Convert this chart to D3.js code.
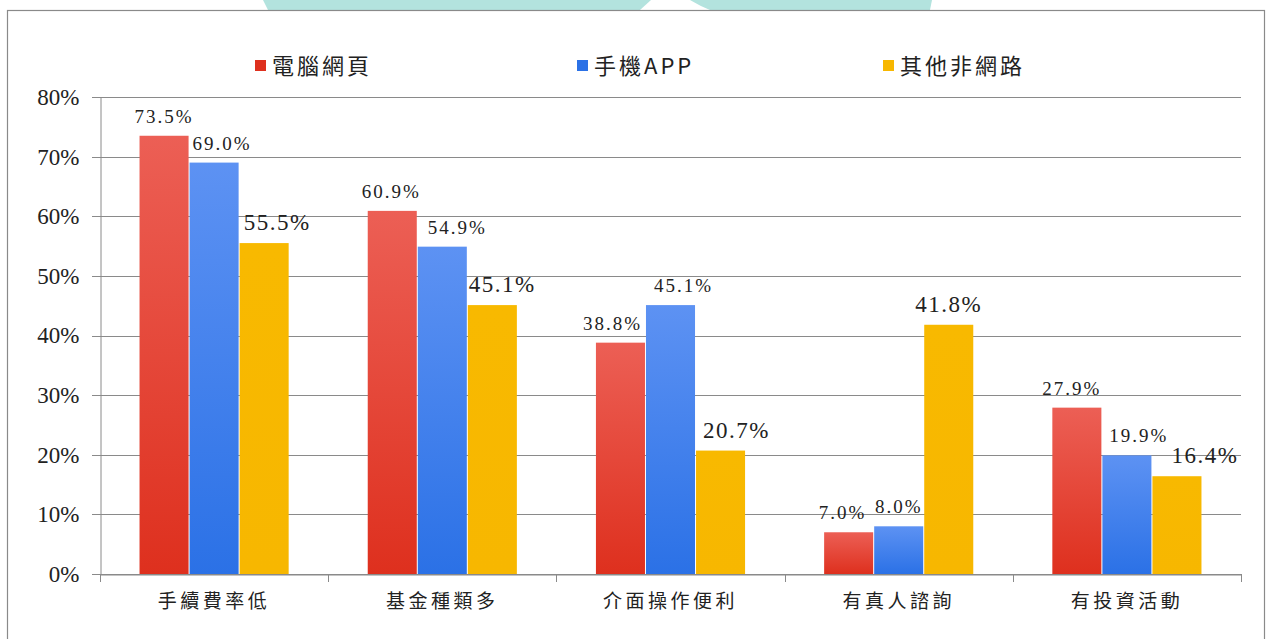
<!DOCTYPE html>
<html><head><meta charset="utf-8">
<script src="https://cdn.jsdelivr.net/npm/d3@7"></script>
<style>
html,body{margin:0;padding:0;background:#fff;}
svg{display:block;}
text{font-family:"Liberation Serif","Noto Sans CJK TC",serif;fill:#222;}
</style></head>
<body>
<svg id="chart" width="1271" height="639"></svg>
<script>
const categories = ["手續費率低","基金種類多","介面操作便利","有真人諮詢","有投資活動"];
const seriesNames = ["電腦網頁","手機APP","其他非網路"];
const webValues = [73.5, 60.9, 38.8, 7.0, 27.9];
const appValues = [69.0, 54.9, 45.1, 8.0, 19.9];
const otherValues = [55.5, 45.1, 20.7, 41.8, 16.4];
const yTicks = [0,10,20,30,40,50,60,70,80];

const seriesValues = [webValues, appValues, otherValues];
// styling / layout (not data)
const colorsTop = ["#ec5f55","#5d92f3","#f8b900"];
const colorsBot = ["#de301e","#2b71e6","#f7b700"];
const labelSize = [19,19,23];
const labelNudge = [[0,-1,-8,-6,-5],[8,15,13,0,12],[13,10,16,0,28]];

const svg = d3.select("#chart");
const defs = svg.append("defs");
seriesNames.forEach((s,i)=>{
  const g = defs.append("linearGradient").attr("id","grad"+i)
    .attr("x1",0).attr("y1",0).attr("x2",0).attr("y2",1);
  g.append("stop").attr("offset","0%").attr("stop-color",colorsTop[i]);
  g.append("stop").attr("offset","100%").attr("stop-color",colorsBot[i]);
});

// watermark at top
svg.append("path")
  .attr("d","M263,0 L651,0 L640,10 L268,10 Z")
  .attr("fill","#b3e3de");
svg.append("path")
  .attr("d","M690,0 L932,0 L930,10 L710,10 Q700,6 690,0 Z")
  .attr("fill","#b3e3de");

// frame
svg.append("rect").attr("x",7.5).attr("y",10.5).attr("width",1257).attr("height",640)
  .attr("fill","none").attr("stroke","#8a8a8a").attr("stroke-width",1.2);

const pLeft = 100, pRight = 1241, pTop = 97, pBottom = 574;
const y = d3.scaleLinear().domain([0,80]).range([pBottom, pTop]);
const x0 = d3.scaleBand().domain(categories).range([pLeft, pRight]).padding(0);
const x1 = d3.scaleBand().domain(seriesNames).range([0, x0.bandwidth()]).paddingInner(0).paddingOuter(0.78);

// gridlines
svg.append("g").selectAll("line").data(yTicks).join("line")
  .attr("x1", pLeft-8).attr("x2", pRight)
  .attr("y1", d=>Math.round(y(d))+0.5).attr("y2", d=>Math.round(y(d))+0.5)
  .attr("stroke","#8a8a8a").attr("stroke-width",1);

// y axis
const yAxis = d3.axisLeft(y).tickValues(yTicks).tickFormat(d=>d+"%").tickSize(0).tickPadding(21);
const gy = svg.append("g").attr("transform",`translate(${pLeft+0.5},0)`).call(yAxis);
gy.select(".domain").attr("stroke","#8a8a8a");
gy.selectAll("text").attr("font-size",23).attr("fill","#222")
  .style("font-family","'Liberation Serif',serif");

// x axis
const xAxis = d3.axisBottom(x0).tickSize(0).tickPadding(20);
const gx = svg.append("g").attr("transform",`translate(0,${pBottom+0.5})`).call(xAxis);
gx.select(".domain").attr("stroke","#8a8a8a");
gx.selectAll("text").attr("font-size",19).attr("letter-spacing",3.5).attr("fill","#222")
  .style("font-family","'Noto Sans CJK TC',sans-serif").attr("dx",0);
// boundary ticks
const bounds = categories.map(c=>x0(c)).concat([pRight]);
svg.append("g").selectAll("line").data(bounds).join("line")
  .attr("x1",d=>Math.round(d)+0.5).attr("x2",d=>Math.round(d)+0.5)
  .attr("y1",pBottom).attr("y2",pBottom+8)
  .attr("stroke","#8a8a8a");

// bars
const groups = svg.append("g").selectAll("g").data(categories).join("g")
  .attr("transform",c=>`translate(${x0(c)},0)`);
seriesNames.forEach((s,si)=>{
  groups.append("rect")
    .attr("x",(c)=>x1(s)+0.5)
    .attr("width",x1.bandwidth()-1)
    .attr("y",(c,i)=>y(seriesValues[si][i]))
    .attr("height",(c,i)=>pBottom - y(seriesValues[si][i]))
    .attr("fill",`url(#grad${si})`);
  groups.append("text")
    .attr("x",(c,i)=>x1(s)+x1.bandwidth()/2+labelNudge[si][i])
    .attr("y",(c,i)=>y(seriesValues[si][i])-13)
    .attr("text-anchor","middle")
    .attr("font-size",labelSize[si])
    .attr("letter-spacing",si===2?1.5:2)
    .text((c,i)=>seriesValues[si][i].toFixed(1)+"%");
});

// legend
const legendX = [255, 577, 883];
const lg = svg.append("g").selectAll("g").data(seriesNames).join("g")
  .attr("transform",(d,i)=>`translate(${legendX[i]},60)`);
lg.append("rect").attr("width",11).attr("height",11).attr("fill",(d,i)=>colorsBot[i]);
lg.append("text").attr("x",17).attr("y",14).attr("font-size",22).attr("letter-spacing",3)
  .style("font-family","'Noto Sans CJK TC','Liberation Serif',serif")
  .text(d=>d);
</script>
</body></html>
